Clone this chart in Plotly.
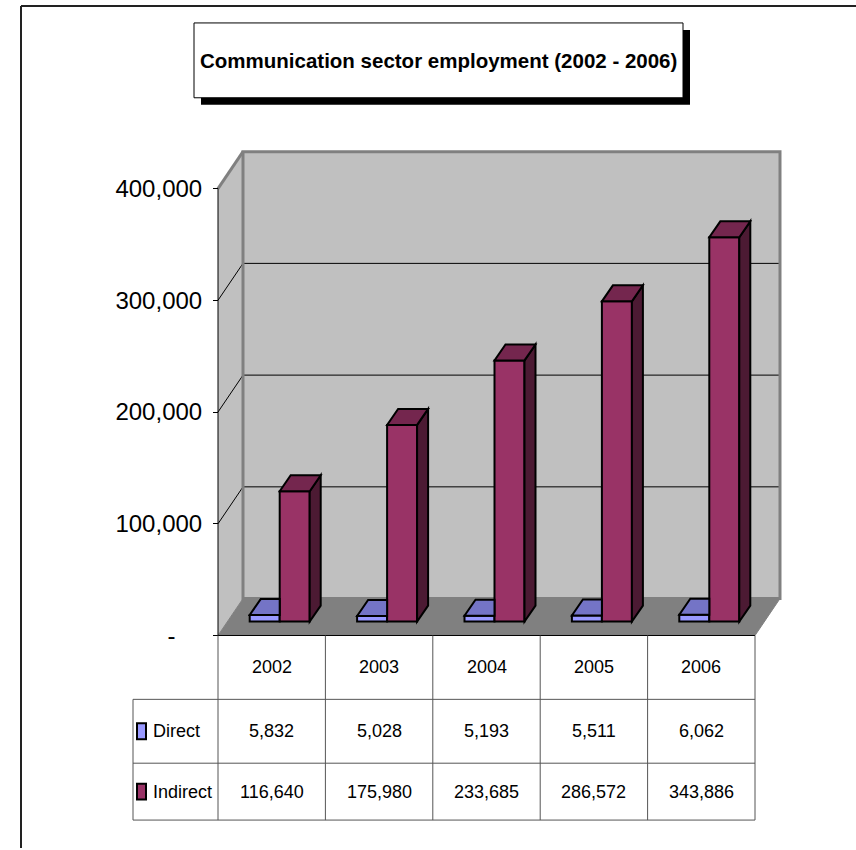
import plotly.graph_objects as go

# ---- data -------------------------------------------------------------
years = ["2002", "2003", "2004", "2005", "2006"]
direct = [5832, 5028, 5193, 5511, 6062]
indirect = [116640, 175980, 233685, 286572, 343886]
series_names = ["Direct", "Indirect"]
y_ticks = [0, 100000, 200000, 300000, 400000]
y_tick_labels = ["-\u00a0\u00a0\u00a0\u00a0", "100,000", "200,000", "300,000", "400,000"]
title_text = "Communication sector employment (2002 - 2006)"

# ---- styling ----------------------------------------------------------
FONT = "Liberation Sans Narrow, Arial Narrow, Liberation Sans, Arial, sans-serif"
DIRECT_FRONT, DIRECT_TOP = "#9999FF", "#7474C6"
INDIRECT_FRONT, INDIRECT_TOP, INDIRECT_SIDE = "#993366", "#74264E", "#4C1A33"
WALL, FLOOR, EDGE = "#C0C0C0", "#808080", "#808080"
TABLE_LINE = "#555555"
TABLE_FONT = dict(size=18, color="black", family=FONT)

# ---- page geometry (pixels) ------------------------------------------
W, H = 856, 850
CAT_PX = 107.4                 # width of one category on the front plane
UNIT_PX = 448 / 400000         # pixels per employee on the value axis
FRONT_X0, FRONT_Y0 = 218, 637  # left edge / zero line of the front plane
WALL_DEPTH = (25, 37)          # oblique offset front plane -> back wall
BAR_PLANE = (8, 14)            # oblique offset front plane -> bar fronts
BAR_DEPTH = (11, 16)           # oblique depth of each bar
BAR_W = 30 / CAT_PX
TABLE_LEFT = 133
ROWS = [637, 701, 765, 822]    # table row edges


def px_x(p):
    return p / W


def px_y(p):
    return (H - p) / H


def x_domain(left_px, lo, hi):
    return [px_x(left_px + (lo + 0.5) * CAT_PX), px_x(left_px + (hi + 0.5) * CAT_PX)]


def y_domain(zero_px, lo, hi):
    return [px_y(zero_px - lo * UNIT_PX), px_y(zero_px - hi * UNIT_PX)]


n = len(years)
pos = list(range(n))
top_val = y_ticks[-1]

# back-wall offsets in data units of the front plane
DXW = WALL_DEPTH[0] / CAT_PX
DYW = WALL_DEPTH[1] / UNIT_PX
# bar depth in data units of the bar plane
BDX = BAR_DEPTH[0] / CAT_PX
BDY = BAR_DEPTH[1] / UNIT_PX

XLO, XHI = -0.5 - 0.1, n - 0.5 + DXW + 0.1
YLO, YHI = -10000, top_val + DYW + 10000

fig = go.Figure()

fig.add_trace(go.Bar(
    x=pos, y=direct, name=series_names[0], xaxis="x2", yaxis="y2",
    width=BAR_W, offset=-BAR_W,
    marker=dict(color=DIRECT_FRONT, line=dict(color="black", width=2)),
))
fig.add_trace(go.Bar(
    x=pos, y=indirect, name=series_names[1], xaxis="x2", yaxis="y2",
    width=BAR_W, offset=0,
    marker=dict(color=INDIRECT_FRONT, line=dict(color="black", width=2)),
))

shapes = []


def poly(pts):
    return "M " + " L ".join(f"{x},{y}" for x, y in pts) + " Z"


# ---- walls and floor (front-plane axes) ------------------------------
L, R = -0.5, n - 0.5
shapes.append(dict(type="path", xref="x", yref="y", layer="below",
                   path=poly([(L, 0), (L + DXW, DYW), (L + DXW, top_val + DYW), (L, top_val)]),
                   fillcolor=WALL, line=dict(width=0)))
shapes.append(dict(type="rect", xref="x", yref="y", layer="below",
                   x0=L + DXW, y0=DYW, x1=R + DXW, y1=top_val + DYW,
                   fillcolor=WALL, line=dict(width=0)))
for v in y_ticks[1:-1]:
    shapes.append(dict(type="line", xref="x", yref="y", layer="below",
                       x0=L + DXW, y0=v + DYW, x1=R + DXW, y1=v + DYW,
                       line=dict(color="black", width=1)))
    shapes.append(dict(type="line", xref="x", yref="y", layer="below",
                       x0=L, y0=v, x1=L + DXW, y1=v + DYW,
                       line=dict(color="black", width=1)))
shapes.append(dict(type="rect", xref="x", yref="y", layer="below",
                   x0=L + DXW, y0=DYW, x1=R + DXW, y1=top_val + DYW,
                   fillcolor="rgba(0,0,0,0)", line=dict(color=EDGE, width=3)))
shapes.append(dict(type="line", xref="x", yref="y", layer="below",
                   x0=L, y0=top_val, x1=L + DXW, y1=top_val + DYW,
                   line=dict(color=EDGE, width=3)))
shapes.append(dict(type="path", xref="x", yref="y", layer="below",
                   path=poly([(L, 0), (R, 0), (R + DXW, DYW), (L + DXW, DYW)]),
                   fillcolor=FLOOR, line=dict(color=FLOOR, width=1)))
# front value axis line and floor front edge
shapes.append(dict(type="line", xref="x", yref="y", layer="below",
                   x0=L, y0=0, x1=L, y1=top_val, line=dict(color="black", width=1)))
shapes.append(dict(type="line", xref="x", yref="y", layer="below",
                   x0=L, y0=0, x1=R, y1=0, line=dict(color="black", width=1)))

# ---- 3-D faces of the bars (bar-plane axes) --------------------------
for i in range(n):
    vd, vi = direct[i], indirect[i]
    x0d, x1d = i - BAR_W, i
    x0i, x1i = i, i + BAR_W
    # direct: top face, its right part is hidden behind the indirect bar
    shapes.append(dict(type="path", xref="x2", yref="y2", layer="above",
                       path=poly([(x0d, vd), (x1d, vd), (x1d, vd + BDY), (x0d + BDX, vd + BDY)]),
                       fillcolor=DIRECT_TOP, line=dict(color="black", width=2)))
    # indirect: side and top faces
    shapes.append(dict(type="path", xref="x2", yref="y2", layer="above",
                       path=poly([(x1i, 0), (x1i, vi), (x1i + BDX, vi + BDY), (x1i + BDX, BDY)]),
                       fillcolor=INDIRECT_SIDE, line=dict(color="black", width=2)))
    shapes.append(dict(type="path", xref="x2", yref="y2", layer="above",
                       path=poly([(x0i, vi), (x1i, vi), (x1i + BDX, vi + BDY), (x0i + BDX, vi + BDY)]),
                       fillcolor=INDIRECT_TOP, line=dict(color="black", width=2)))

# ---- data table under the plot ---------------------------------------
for i in range(n + 1):
    shapes.append(dict(type="line", xref="x", yref="paper",
                       x0=i - 0.5, x1=i - 0.5, y0=px_y(ROWS[0]), y1=px_y(ROWS[-1]),
                       line=dict(color=TABLE_LINE, width=1)))
shapes.append(dict(type="line", xref="paper", yref="paper",
                   x0=px_x(TABLE_LEFT), x1=px_x(TABLE_LEFT), y0=px_y(ROWS[1]), y1=px_y(ROWS[-1]),
                   line=dict(color=TABLE_LINE, width=1)))
right_px = FRONT_X0 + n * CAT_PX
for r in ROWS[1:]:
    shapes.append(dict(type="line", xref="paper", yref="paper",
                       x0=px_x(TABLE_LEFT), x1=px_x(right_px), y0=px_y(r), y1=px_y(r),
                       line=dict(color=TABLE_LINE, width=1)))

annotations = []
row_mid = [(ROWS[k] + ROWS[k + 1]) / 2 for k in range(3)]
rows_text = [years, [f"{v:,}" for v in direct], [f"{v:,}" for v in indirect]]
for k, texts in enumerate(rows_text):
    for i, t in enumerate(texts):
        annotations.append(dict(xref="x", yref="paper", x=i, y=px_y(row_mid[k]), text=t,
                                xanchor="center", yanchor="middle",
                                showarrow=False, font=TABLE_FONT))

for k, (name, col) in enumerate(zip(series_names, [DIRECT_FRONT, INDIRECT_FRONT])):
    cy = row_mid[k + 1]
    shapes.append(dict(type="rect", xref="paper", yref="paper",
                       x0=px_x(137), x1=px_x(146), y0=px_y(cy + 8), y1=px_y(cy - 8),
                       fillcolor=col, line=dict(color="black", width=2)))
    annotations.append(dict(xref="paper", yref="paper", x=px_x(151), y=px_y(cy), text=name,
                            xanchor="left", yanchor="middle", showarrow=False,
                            font=TABLE_FONT))

# ---- title box with drop shadow ---------------------------------------
shapes.append(dict(type="rect", xref="paper", yref="paper",
                   x0=px_x(201), x1=px_x(690), y0=px_y(105), y1=px_y(30),
                   fillcolor="black", line=dict(width=0)))
shapes.append(dict(type="rect", xref="paper", yref="paper",
                   x0=px_x(194), x1=px_x(683), y0=px_y(98), y1=px_y(23),
                   fillcolor="white", line=dict(color="black", width=1)))
annotations.append(dict(xref="paper", yref="paper", x=px_x(438.5), y=px_y(61),
                        text=f"<b>{title_text}</b>", showarrow=False,
                        xanchor="center", yanchor="middle",
                        font=dict(size=20.5, color="black", family=FONT)))

# ---- outer frame -----------------------------------------------------
shapes.append(dict(type="line", xref="paper", yref="paper",
                   x0=px_x(21), x1=px_x(21), y0=px_y(6), y1=0,
                   line=dict(color="#222222", width=2)))
shapes.append(dict(type="line", xref="paper", yref="paper",
                   x0=px_x(21), x1=1, y0=px_y(6), y1=px_y(6),
                   line=dict(color="#222222", width=2)))

fig.update_layout(
    width=W, height=H,
    margin=dict(l=0, r=0, t=0, b=0),
    paper_bgcolor="white", plot_bgcolor="rgba(0,0,0,0)",
    showlegend=False, barmode="overlay",
    font=dict(family=FONT, color="black"),
    xaxis=dict(domain=x_domain(FRONT_X0, XLO, XHI), range=[XLO, XHI],
               visible=False, anchor="y", fixedrange=True),
    yaxis=dict(domain=y_domain(FRONT_Y0, YLO, YHI), range=[YLO, YHI],
               anchor="free", position=px_x(FRONT_X0),
               tickmode="array", tickvals=y_ticks, ticktext=y_tick_labels,
               ticks="outside", ticklen=5, tickcolor="black", tickwidth=1,
               ticklabelstandoff=6,
               showline=False, showgrid=False, zeroline=False, fixedrange=True,
               tickfont=dict(size=24, color="black", family=FONT)),
    xaxis2=dict(domain=x_domain(FRONT_X0 + BAR_PLANE[0], -0.5, n - 0.5),
                range=[-0.5, n - 0.5], visible=False, anchor="y2", fixedrange=True),
    yaxis2=dict(domain=y_domain(FRONT_Y0 - BAR_PLANE[1], -4000, top_val),
                range=[-4000, top_val], visible=False, anchor="x2", fixedrange=True),
    shapes=shapes,
    annotations=annotations,
)

fig.write_html("out.html")
